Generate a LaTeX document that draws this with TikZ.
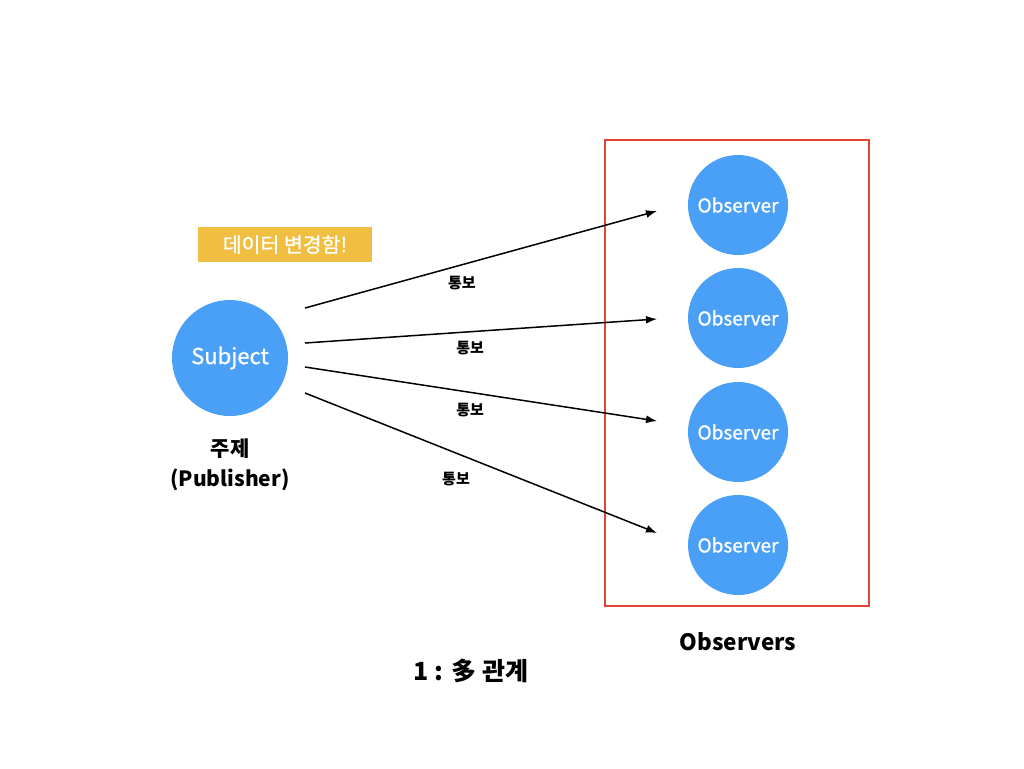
\documentclass[tikz,border=0pt]{standalone}
\usepackage{fontspec}
\setmainfont{Noto Sans CJK KR}
\newfontfamily\medfont[FakeBold=1]{Noto Sans CJK KR}
\usetikzlibrary{positioning}
\usetikzlibrary{arrows.meta}
\definecolor{nodeblue}{RGB}{74,160,246}
\definecolor{noteyellow}{RGB}{240,190,65}
\definecolor{boxred}{RGB}{224,70,50}
\tikzset{
    subjnode/.style = {circle, fill=nodeblue, minimum size=116pt, inner sep=0pt, text=white,font=\medfont\fontsize{22}{24}\selectfont},
    obsnode/.style = {circle, fill=nodeblue, minimum size=100pt, inner sep=0pt, text=white,font=\medfont\fontsize{19}{22}\selectfont},
    note/.style = {rectangle, fill=noteyellow, minimum width=174pt, minimum height=35pt, text=white,font=\medfont\fontsize{20.5}{24}\selectfont},
    caption/.style = {align=center,font=\bfseries\fontsize{21}{30}\selectfont},
    tag/.style = {font=\bfseries\fontsize{15}{18}\selectfont},
    edgen/.style = {-{Latex[length=11pt,width=8pt]},line width=1.5pt,black},
    group/.style = {draw=boxred,line width=1.4pt},
}

\begin{document}
\begin{tikzpicture}[x=1pt,y=-1pt]
\useasboundingbox (0,0) rectangle (1024,768);
%
\node[subjnode] at (230, 358) (subj) {Subject};
\node[caption] at (230, 465) (publ) {주제\\(Publisher)};
\node[note] at (285, 244.5) (chg) {데이터 변경함!};
%
\node[obsnode] at (738, 205) (o1) {Observer};
\node[obsnode] at (738, 318) (o2) {Observer};
\node[obsnode] at (738, 432) (o3) {Observer};
\node[obsnode] at (738, 545) (o4) {Observer};
\path[group] (605, 140) rectangle (869, 606);
\node[caption,font=\bfseries\fontsize{22.5}{26}\selectfont] at (738, 642) (obs) {Observers};
\node[caption,font=\bfseries\fontsize{25}{28}\selectfont] at (471, 671) (rel) {1 : 多 관계};
%
% start and end points of the notifications
\coordinate (s1) at (305, 308);
\coordinate (s2) at (305, 343);
\coordinate (s3) at (305, 367);
\coordinate (s4) at (305, 393);
\coordinate (e1) at (657, 211);
\coordinate (e2) at (657, 319);
\coordinate (e3) at (657, 421);
\coordinate (e4) at (657, 533);
%
\draw[edgen] (s1) -- node[tag,pos=0.446,below=7pt] {통보} (e1);
\draw[edgen] (s2) -- node[tag,pos=0.469,below=5pt] {통보} (e2);
\draw[edgen] (s3) -- node[tag,pos=0.469,below=7pt] {통보} (e3);
\draw[edgen] (s4) -- node[tag,pos=0.429,below=15pt] {통보} (e4);

\end{tikzpicture}
\end{document}
